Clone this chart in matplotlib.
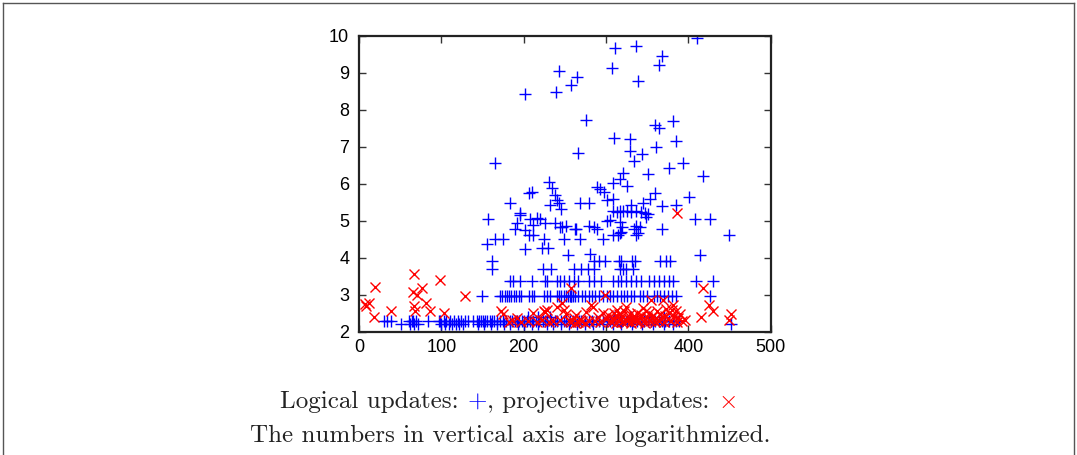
import matplotlib
matplotlib.use("Agg")
import matplotlib.pyplot as plt
from matplotlib.lines import Line2D
import numpy as np

# --- data (x, log value) ---
# blue "+" points that sit on the discrete bands
band_levels = [2.20, 2.30, 2.40, 2.96, 3.37, 3.69, 3.90]
band_220_x = [51, 62, 67, 72, 100, 104, 109, 113, 118, 122, 126, 145, 152, 160, 168, 176,
              184, 193, 201, 210, 218, 228, 236, 245, 255, 265, 274, 284, 296, 308, 318,
              332, 344, 357, 370, 381, 452]
band_230_x = [30, 34, 39, 61, 64, 66, 69, 84, 97, 99, 103, 106, 110, 115, 120, 124, 129,
              133, 139, 143, 146, 148, 151, 153, 156, 159, 161, 164, 168, 171, 175, 179,
              183, 186, 190, 192, 195, 198, 201, 204, 208, 212, 215, 219, 223, 226, 229,
              233, 238, 241, 245, 249, 252, 256, 260, 263, 267, 270, 274, 279, 283, 288,
              292, 297, 301, 305, 309, 313, 317, 320, 325, 329, 333, 338, 342, 346, 351,
              355, 359, 364, 368, 372, 377, 381, 385, 389]
band_240_x = [205, 218, 232, 310, 330, 352, 371]
band_296_x = [150, 171, 174, 177, 180, 182, 185, 188, 191, 194, 197, 207, 210, 213, 225,
              228, 232, 240, 243, 246, 249, 252, 254, 256, 257, 258, 260, 263, 266, 271,
              275, 279, 283, 287, 291, 297, 301, 305, 309, 313, 318, 322, 326, 330, 334,
              341, 345, 350, 358, 362, 366, 371, 375, 380, 385, 426]
band_337_x = [183, 187, 196, 210, 226, 228, 241, 244, 249, 255, 261, 266, 280, 286, 294,
              309, 315, 318, 324, 330, 337, 343, 352, 358, 364, 371, 376, 382, 409, 430]
band_369_x = [162, 224, 233, 261, 270, 278, 286, 317, 321, 324, 333]
band_390_x = [162, 285, 292, 299, 316, 318, 332, 335, 366, 373, 378]

# blue "+" points off the bands
blue_x = [410, 311, 336, 368, 364, 307, 243, 265, 258, 339,
          202, 239, 276, 381, 360, 364, 310, 329, 385, 165,
          266, 329, 344, 361, 334, 393, 377, 418, 351, 321,
          317, 309, 325, 231, 234, 238, 240, 206, 210, 183,
          232, 243, 246, 268, 279, 289, 293, 298, 301, 309,
          331, 345, 354, 360, 368, 385, 401, 309, 313, 317,
          321, 325, 331, 337, 343, 347, 351, 349, 301, 305,
          317, 408, 426, 450, 368, 337, 341, 334, 339, 337,
          320, 317, 315, 157, 196, 192, 196, 190, 208, 211,
          216, 220, 202, 206, 212, 226, 225, 230, 222, 238,
          244, 247, 249, 252, 262, 264, 269, 279, 285, 289,
          297, 309, 318, 155, 165, 175, 202, 254, 281, 414]
blue_y = [9.93, 9.66, 9.73, 9.45, 9.21, 9.14, 9.05, 8.89, 8.67, 8.78,
          8.44, 8.47, 7.72, 7.70, 7.60, 7.50, 7.24, 7.22, 7.15, 6.57,
          6.82, 6.89, 6.80, 7.00, 6.62, 6.57, 6.42, 6.21, 6.26, 6.30,
          6.13, 6.03, 5.94, 6.04, 5.88, 5.69, 5.56, 5.75, 5.78, 5.49,
          5.44, 5.47, 5.33, 5.49, 5.47, 5.92, 5.85, 5.78, 5.56, 5.60,
          5.42, 5.49, 5.58, 5.74, 5.40, 5.44, 5.63, 5.26, 5.24, 5.26,
          5.27, 5.26, 5.25, 5.26, 5.24, 5.20, 5.18, 5.11, 5.00, 5.02,
          4.97, 5.06, 5.06, 4.61, 4.79, 4.86, 4.82, 4.79, 4.66, 4.61,
          4.82, 4.66, 4.61, 5.06, 5.15, 4.95, 5.20, 4.79, 5.06, 4.88,
          5.08, 5.06, 4.75, 4.61, 4.61, 4.95, 4.50, 4.27, 4.27, 4.93,
          4.82, 4.82, 4.50, 4.86, 4.79, 4.77, 4.50, 4.86, 4.82, 4.77,
          4.50, 4.61, 4.70, 4.37, 4.50, 4.50, 4.25, 4.07, 4.10, 4.07]

# red "x" points (projective updates)
red_x = [7, 9, 12, 19, 18, 39, 67, 66, 71, 76,
         67, 68, 81, 86, 98, 103, 129, 173, 175, 182,
         186, 192, 197, 205, 212, 216, 222, 225, 228, 226,
         231, 236, 241, 244, 247, 249, 252, 255, 257, 258,
         261, 264, 266, 268, 271, 274, 276, 279, 282, 284,
         287, 290, 293, 296, 299, 300, 262, 303, 305, 307,
         309, 310, 312, 314, 315, 316, 318, 319, 320, 322,
         324, 325, 327, 329, 330, 332, 334, 336, 338, 340,
         341, 343, 345, 347, 348, 350, 352, 354, 355, 357,
         359, 361, 362, 364, 366, 368, 369, 371, 373, 375,
         377, 379, 381, 383, 385, 386, 388, 390, 392, 396,
         313, 326, 337, 349, 358, 372, 380, 386, 418, 415,
         425, 430, 452, 450]
red_y = [2.74, 2.70, 2.78, 3.22, 2.41, 2.57, 3.55, 3.08, 2.99, 3.17,
         2.70, 2.56, 2.77, 2.56, 3.40, 2.50, 2.98, 2.57, 2.47, 2.27,
         2.32, 2.36, 2.27, 2.30, 2.50, 2.27, 2.32, 2.57, 2.60, 2.53,
         2.27, 2.30, 2.68, 2.32, 2.77, 2.59, 2.48, 2.30, 3.17, 2.27,
         2.36, 2.45, 2.27, 2.32, 2.30, 2.25, 2.54, 2.30, 2.72, 2.66,
         2.30, 2.40, 2.27, 2.50, 3.00, 2.34, 2.25, 2.45, 2.30, 2.27,
         2.38, 2.52, 2.25, 2.40, 2.30, 2.47, 2.35, 2.27, 2.42, 2.55,
         2.68, 2.30, 2.38, 2.48, 2.25, 2.33, 2.43, 2.30, 2.50, 2.27,
         2.38, 2.45, 2.63, 2.32, 2.25, 2.40, 2.50, 2.30, 2.86, 2.44,
         2.27, 2.36, 2.56, 2.30, 2.47, 2.40, 2.86, 2.27, 2.62, 2.35,
         2.50, 2.30, 2.72, 2.42, 2.55, 2.27, 2.36, 2.48, 2.30, 2.32,
         2.60, 2.28, 2.38, 2.55, 2.33, 2.43, 2.60, 5.22, 3.18, 2.41,
         2.72, 2.56, 2.47, 2.32]

caption_1 = [("Logical updates: ", "#222222"), (r"$+$", "#0000ff"),
             (", projective updates: ", "#222222"), (r"$\times$", "#ff0000")]
caption_2 = "The numbers in vertical axis are logarithmized."

# --- figure ---
plt.rcParams["mathtext.fontset"] = "cm"
fig = plt.figure(figsize=(10.77, 4.55), dpi=100)
ax = fig.add_axes([0.3333, 0.2708, 0.3822, 0.6505])

bands = [band_220_x, band_230_x, band_240_x, band_296_x, band_337_x, band_369_x, band_390_x]
all_bx = list(blue_x)
all_by = list(blue_y)
for lvl, xs in zip(band_levels, bands):
    all_bx += xs
    all_by += [lvl] * len(xs)

ax.plot(all_bx, all_by, linestyle="none", marker="+", ms=8.5, mew=1.0, color="#0000ff")
ax.plot(red_x, red_y, linestyle="none", marker="x", ms=7, mew=1.0, color="#ff0000")

ax.set_xlim(0, 500)
ax.set_ylim(2, 10)
ax.set_xticks(np.arange(0, 501, 100))
ax.set_yticks(np.arange(2, 11, 1))
ax.tick_params(direction="in", top=True, right=True, length=5, width=1.0,
               color="#333333", labelsize=13, labelcolor="black")
ax.tick_params(axis="x", pad=5)
ax.tick_params(axis="y", pad=7)
for lab in ax.get_xticklabels() + ax.get_yticklabels():
    lab.set_fontfamily("Liberation Sans")
for sp in ax.spines.values():
    sp.set_linewidth(1.6)
    sp.set_color("#222222")

# page frame
frame_kw = dict(color="#555555", linewidth=1.0, transform=fig.transFigure)
fig.add_artist(Line2D([3 / 1077, 3 / 1077], [0, 1 - 3 / 455], **frame_kw))
fig.add_artist(Line2D([3 / 1077, 1074 / 1077], [1 - 3 / 455, 1 - 3 / 455], **frame_kw))
fig.add_artist(Line2D([1074 / 1077, 1074 / 1077], [0, 1 - 3 / 455], **frame_kw))

# caption
cap_size = 18
cap_center = 0.4715
renderer = fig.canvas.get_renderer()
pieces = []
for s, c in caption_1:
    t = fig.text(0, 1 - 408 / 455, s, color=c, fontsize=cap_size,
                 fontfamily="cmr10", va="baseline", ha="left")
    pieces.append(t)
widths = [t.get_window_extent(renderer).width / fig.bbox.width for t in pieces]
xpos = cap_center - sum(widths) / 2
for t, w in zip(pieces, widths):
    t.set_x(xpos)
    xpos += w
fig.text(cap_center + 0.002, 1 - 442 / 455, caption_2, color="#222222", fontsize=cap_size,
         fontfamily="cmr10", va="baseline", ha="center")

fig.savefig("out.png", dpi=100)
